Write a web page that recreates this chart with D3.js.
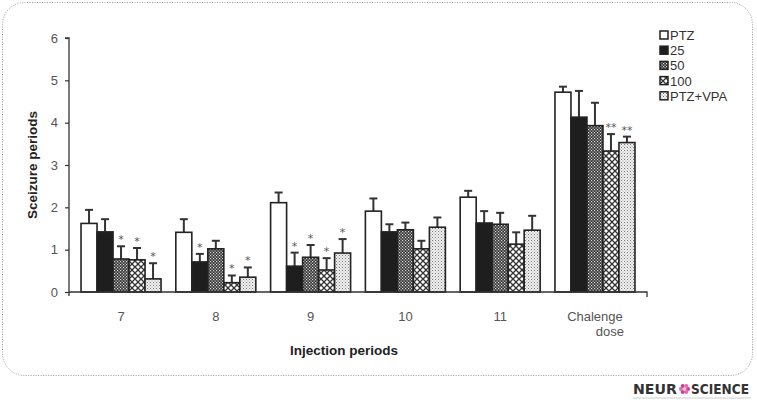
<!DOCTYPE html>
<html><head><meta charset="utf-8">
<script src="https://cdn.jsdelivr.net/npm/d3@7"></script>
<style>body{margin:0;background:#fff}svg{display:block;font-family:"Liberation Sans",Arial,sans-serif}</style>
</head><body><svg id="c" width="757" height="400"></svg>
<script>
const categories = ["7", "8", "9", "10", "11", "Chalenge dose"];
const series = ["PTZ", "25", "50", "100", "PTZ+VPA"];
const means = {
  "PTZ":     [1.62, 1.41, 2.11, 1.91, 2.24, 4.72],
  "25":      [1.42, 0.71, 0.61, 1.42, 1.63, 4.13],
  "50":      [0.78, 1.02, 0.82, 1.47, 1.60, 3.93],
  "100":     [0.76, 0.22, 0.52, 1.02, 1.13, 3.33],
  "PTZ+VPA": [0.31, 0.35, 0.92, 1.53, 1.46, 3.53]
};
const errs = {
  "PTZ":     [0.32, 0.31, 0.24, 0.30, 0.15, 0.13],
  "25":      [0.30, 0.19, 0.32, 0.18, 0.28, 0.62],
  "50":      [0.30, 0.19, 0.29, 0.17, 0.27, 0.54],
  "100":     [0.28, 0.17, 0.28, 0.19, 0.28, 0.40],
  "PTZ+VPA": [0.37, 0.23, 0.33, 0.23, 0.34, 0.14]
};
const stars = {
  "PTZ":     ["", "", "", "", "", ""],
  "25":      ["", "*", "*", "", "", ""],
  "50":      ["*", "", "*", "", "", ""],
  "100":     ["*", "*", "*", "", "", "**"],
  "PTZ+VPA": ["*", "*", "*", "", "", "**"]
};
const yTicks = [0, 1, 2, 3, 4, 5, 6];

const svg = d3.select("#c");
const defs = svg.append("defs");
const p50 = defs.append("pattern").attr("id","p50").attr("patternUnits","userSpaceOnUse").attr("width",3).attr("height",3);
p50.append("rect").attr("width",3).attr("height",3).attr("fill","#333");
p50.append("rect").attr("x",0).attr("y",0).attr("width",1.2).attr("height",1.2).attr("fill","#ddd");
p50.append("rect").attr("x",1.5).attr("y",1.5).attr("width",1.2).attr("height",1.2).attr("fill","#ddd");
const p100 = defs.append("pattern").attr("id","p100").attr("patternUnits","userSpaceOnUse").attr("width",6).attr("height",6);
p100.append("rect").attr("width",6).attr("height",6).attr("fill","#fff");
p100.append("path").attr("d","M0,0L6,6M6,0L0,6").attr("stroke","#333").attr("stroke-width",1.3);
const pv = defs.append("pattern").attr("id","pv").attr("patternUnits","userSpaceOnUse").attr("width",3).attr("height",3);
pv.append("rect").attr("width",3).attr("height",3).attr("fill","#f2f2f2");
pv.append("rect").attr("x",0).attr("y",0).attr("width",1).attr("height",1).attr("fill","#777");
pv.append("rect").attr("x",1.5).attr("y",1.5).attr("width",1).attr("height",1).attr("fill","#999");
const fills = {"PTZ":"#fff","25":"#1e1e1e","50":"url(#p50)","100":"url(#p100)","PTZ+VPA":"url(#pv)"};

svg.append("rect").attr("x",2.5).attr("y",2.5).attr("width",750).attr("height",373).attr("rx",22)
  .attr("fill","none").attr("stroke","#999").attr("stroke-width",1).attr("stroke-dasharray","1,1.5");

const x0 = 69, x1 = 647, yTop = 38, yBot = 292;
const x = d3.scaleBand().domain(categories).range([x0, x1]).paddingInner(0.156).paddingOuter(0.127);
const xs = d3.scaleBand().domain(series).range([0, x.bandwidth()]);
const y = d3.scaleLinear().domain([0, 6]).range([yBot, yTop]);

const ya = svg.append("g").attr("transform",`translate(${x0},0)`)
  .call(d3.axisLeft(y).tickValues(yTicks).tickFormat(d3.format("d")).tickSize(4).tickPadding(7));
ya.select(".domain").attr("stroke","#333").attr("stroke-width",1.3).attr("d",`M-4,${yTop}H0V${yBot+4}`);
ya.selectAll(".tick line").attr("stroke","#333").attr("stroke-width",1.2);
ya.selectAll(".tick text").attr("fill","#555").style("font-size","13px").style("font-family","'Liberation Sans',Arial,sans-serif");

const g = svg.append("g");
series.forEach((s, si) => {
  categories.forEach((c, ci) => {
    const bx = x(c) + xs(s), bw = xs.bandwidth();
    const v = means[s][ci], e = errs[s][ci];
    const cx = bx + bw/2;
    g.append("line").attr("x1",cx).attr("x2",cx).attr("y1",y(v)).attr("y2",y(v+e)).attr("stroke","#333").attr("stroke-width",2);
    g.append("line").attr("x1",cx-4).attr("x2",cx+4).attr("y1",y(v+e)).attr("y2",y(v+e)).attr("stroke","#333").attr("stroke-width",2);
    g.append("rect").attr("x",bx).attr("y",y(v)).attr("width",bw).attr("height",y(0)-y(v))
      .attr("fill",fills[s]).attr("stroke","#222").attr("stroke-width",1.6);
    if (stars[s][ci]) {
      g.append("text").attr("x",cx).attr("y",y(v+e)-3).attr("text-anchor","middle")
        .attr("fill","#555").style("font-size","11px").style("font-family","'DejaVu Sans',sans-serif").text(stars[s][ci]);
    }
  });
});

svg.append("path").attr("d",`M${x0},${yBot}H${x1}V${yBot+5}`).attr("fill","none").attr("stroke","#333").attr("stroke-width",1.3);
categories.forEach(c => {
  const cx = x(c) + x.bandwidth()/2;
  const words = c.split(" ");
  const t = (xx, yy, anchor, str) => svg.append("text").attr("x",xx).attr("y",yy).attr("text-anchor",anchor)
    .attr("fill","#555").style("font-size","13px").text(str);
  if (words.length === 1) t(cx, 321, "middle", c);
  else { t(cx, 321, "middle", words[0]); t(cx+29, 336, "end", words[1]); }
});

svg.append("text").attr("x",344).attr("y",355).attr("text-anchor","middle").attr("fill","#222")
  .style("font-size","13.5px").style("font-weight","bold").text("Injection periods");
svg.append("text").attr("transform",`translate(37,${(yTop+yBot)/2}) rotate(-90)`).attr("text-anchor","middle").attr("fill","#222")
  .style("font-size","13.5px").style("font-weight","bold").text("Sceizure periods");

const lg = svg.append("g");
series.forEach((s, i) => {
  const ly = 35 + i*15.2;
  lg.append("rect").attr("x",660).attr("y",ly-4).attr("width",8).attr("height",8).attr("fill",fills[s]).attr("stroke","#222").attr("stroke-width",1.5);
  lg.append("text").attr("x",670).attr("y",ly+5).attr("fill","#333").style("font-size","13px").text(s);
});

const logo = svg.append("g");
logo.append("text").attr("x",633).attr("y",394).attr("fill","#333").style("font-size","14px").style("font-weight","bold")
  .style("font-family","'DejaVu Sans',sans-serif").attr("textLength",44).attr("lengthAdjust","spacingAndGlyphs").text("NEUR");
const fc = [684.5, 389];
for (let k = 0; k < 6; k++) {
  const a = k*Math.PI/3;
  logo.append("circle").attr("cx",fc[0]+Math.cos(a)*3.6).attr("cy",fc[1]+Math.sin(a)*3.6).attr("r",2).attr("fill", k%2 ? "#e36aa8" : "#c64390");
}
logo.append("circle").attr("cx",fc[0]).attr("cy",fc[1]).attr("r",1.6).attr("fill","#f2b0d2");
logo.append("text").attr("x",691).attr("y",394).attr("fill","#333").style("font-size","14px").style("font-weight","bold")
  .style("font-family","'DejaVu Sans',sans-serif").attr("textLength",58).attr("lengthAdjust","spacingAndGlyphs").text("SCIENCE");
logo.append("line").attr("x1",633).attr("x2",751).attr("y1",398).attr("y2",398).attr("stroke","#ccc").attr("stroke-width",1);
</script></body></html>
